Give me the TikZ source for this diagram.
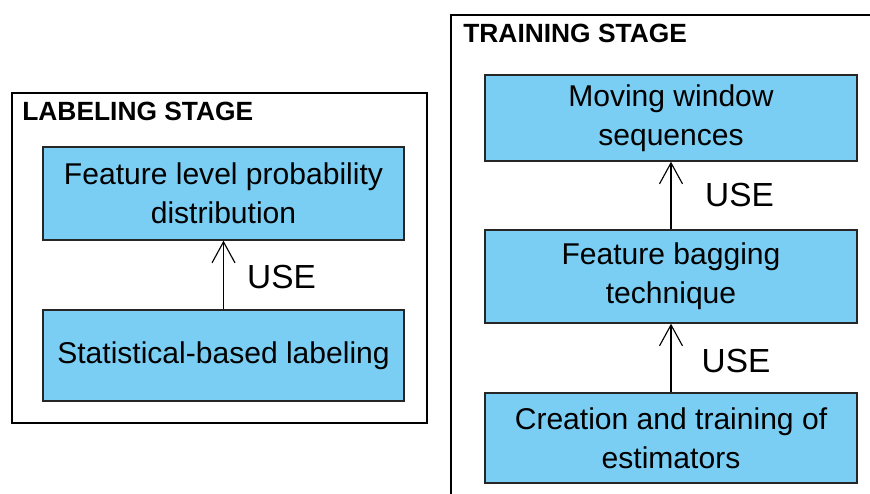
\documentclass[tikz,border=0pt]{standalone}
\usepackage{fontspec}
\setmainfont{Liberation Sans}
\usepackage{tikz}
\usetikzlibrary{arrows.meta, positioning}
\definecolor{boxblue}{RGB}{122,206,244}

\begin{document}
\begin{tikzpicture}[
    block/.style={draw=black!85, fill=boxblue, line width=0.8pt, rectangle, align=center, font=\fontsize{17.1}{22.2}\selectfont},
    uselabel/.style={font=\fontsize{19}{21}\selectfont},
    stagetitle/.style={anchor=base west, inner sep=0pt, font=\bfseries\fontsize{15}{16}\selectfont},
    usearrow/.style={-{Straight Barb[length=0.42cm, width=0.46cm]}, line width=0.65pt}
]
    \useasboundingbox (0,0) rectangle (17.4,9.88);

    % Stage frames (the training one runs off the page)
    \draw[line width=0.8pt] (0.24,1.42) rectangle (8.54,8.02);
    \draw[line width=0.8pt] (18,9.58) -| (9.02,-0.5);

    % Labeling stage
    \node[stagetitle] (labtitle) at (0.44,7.46) {LABELING STAGE};
    \node[block, minimum width=7.22cm, minimum height=1.86cm] (featprob) at (4.47,6.01) {Feature level probability\\distribution};
    \node[block, minimum width=7.22cm, minimum height=1.82cm] (statlab) at (4.47,2.77) {Statistical-based labeling};
    \draw[usearrow] (statlab) -- (featprob);
    \node[uselabel] (uselab) at (5.63,4.34) {USE};

    % Training stage
    \node[stagetitle] (traintitle) at (9.26,9.02) {TRAINING STAGE};
    \node[block, minimum width=7.44cm, minimum height=1.72cm] (movwin) at (13.42,7.52) {Moving window\\sequences};
    \node[block, minimum width=7.44cm, minimum height=1.86cm] (featbag) at (13.42,4.35) {Feature bagging\\technique};
    \node[block, minimum width=7.44cm, minimum height=1.8cm] (creation) at (13.42,1.12) {Creation and training of\\estimators};
    \draw[usearrow] (featbag) -- (movwin);
    \draw[usearrow] (creation) -- (featbag);
    \node[uselabel] (usewin) at (14.79,5.98) {USE};
    \node[uselabel] (usebag) at (14.72,2.66) {USE};
\end{tikzpicture}
\end{document}
